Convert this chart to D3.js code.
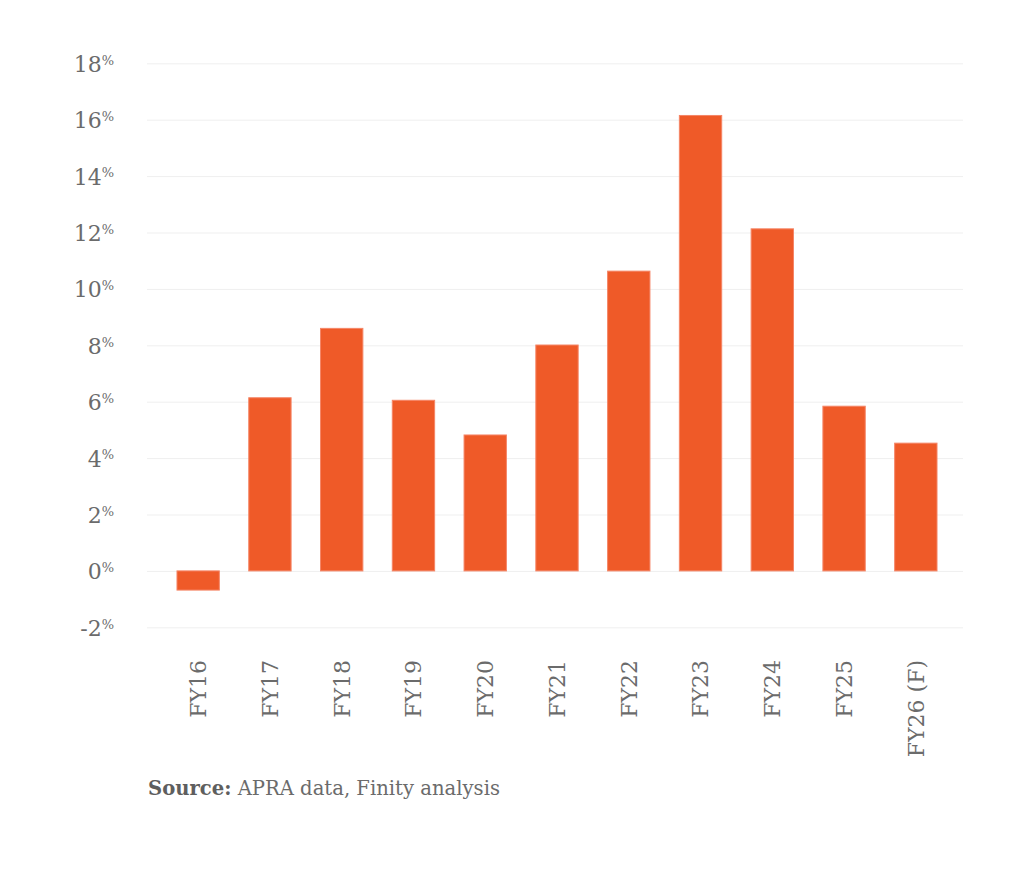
<!DOCTYPE html>
<html>
<head>
<meta charset="utf-8">
<script src="https://cdn.jsdelivr.net/npm/d3@7"></script>
<style>
  body { margin: 0; background: #fff; }
  text { font-family: "DejaVu Serif", serif; }
</style>
</head>
<body>
<script>
// Chart data
var years = ["FY16", "FY17", "FY18", "FY19", "FY20", "FY21", "FY22", "FY23", "FY24", "FY25", "FY26 (F)"];
var growth = [-0.68, 6.14, 8.6, 6.05, 4.82, 8.01, 10.63, 16.15, 12.13, 5.84, 4.53];
var yTicks = [-2, 0, 2, 4, 6, 8, 10, 12, 14, 16, 18];

var w = 1024, h = 886;

var svg = d3.select("body").append("svg")
    .attr("width", w)
    .attr("height", h);

// Scales
var x = d3.scaleBand()
    .domain(years)
    .range([149, 965])
    .paddingInner(0.41)
    .paddingOuter(0.39);

var y = d3.scaleLinear()
    .domain([-2, 18])
    .range([627.3, 63.3]);

// Gridlines + y labels
var yAxis = svg.append("g")
    .attr("transform", "translate(147,0)")
    .call(d3.axisLeft(y).tickValues(yTicks).tickSize(-816).tickFormat(function(d){ return d; }));

yAxis.select(".domain").remove();
yAxis.selectAll(".tick line")
    .attr("stroke", "#efefef")
    .attr("stroke-width", 1);

yAxis.selectAll(".tick text")
    .attr("x", -33)
    .attr("dy", "0.36em")
    .attr("text-anchor", "end")
    .style("font-size", "22px")
    .style("fill", "#6b6b6b")
    .append("tspan")
    .attr("dy", "-0.55em")
    .style("font-size", "13px")
    .text("%");

// Bars
svg.selectAll(".bar")
    .data(growth)
    .enter()
    .append("rect")
    .attr("class", "bar")
    .attr("x", function(d, i){ return x(years[i]); })
    .attr("width", x.bandwidth())
    .attr("y", function(d){ return y(Math.max(0, d)); })
    .attr("height", function(d){ return Math.abs(y(d) - y(0)); })
    .style("fill", "#ef5a28")
    .style("stroke", "#f58566")
    .style("stroke-width", 1);

// X axis labels (rotated)
var xAxis = svg.append("g")
    .attr("transform", "translate(0,627)")
    .call(d3.axisBottom(x).tickSize(0));

xAxis.select(".domain").remove();
xAxis.selectAll(".tick text")
    .attr("transform", "rotate(-90)")
    .attr("x", -33)
    .attr("y", 0)
    .attr("dy", "0.36em")
    .attr("text-anchor", "end")
    .style("font-size", "22px")
    .style("fill", "#6b6b6b");

// Source note
var note = svg.append("text")
    .attr("x", 148)
    .attr("y", 795)
    .style("font-size", "19.6px")
    .style("fill", "#6b6b6b");

note.append("tspan")
    .style("font-weight", "bold")
    .style("fill", "#5e5e5e")
    .text("Source:");

note.append("tspan")
    .text(" APRA data, Finity analysis");
</script>
</body>
</html>
